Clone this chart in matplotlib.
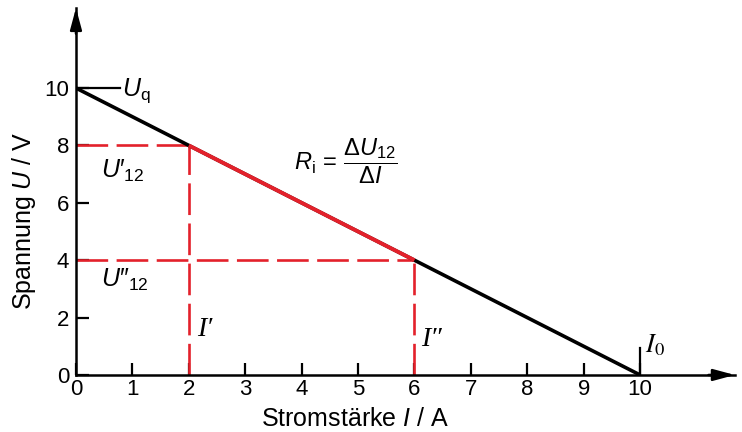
import matplotlib
matplotlib.use("Agg")
import matplotlib.pyplot as plt

plt.rcParams['font.family'] = ['Liberation Sans', 'DejaVu Sans']
plt.rcParams['mathtext.fontset'] = 'custom'
plt.rcParams['mathtext.rm'] = 'Liberation Sans'
plt.rcParams['mathtext.it'] = 'Liberation Sans:italic'
plt.rcParams['mathtext.sf'] = 'Liberation Sans'

# Kennlinie der Spannungsquelle
current = [0, 10]
voltage = [10, 0]
# Messpunkte fuer den Innenwiderstand
i_points = [2, 6]
u_points = [8, 4]

x_ticks = [0, 1, 2, 3, 4, 5, 6, 7, 8, 9, 10]
y_ticks = [0, 2, 4, 6, 8, 10]

red = '#e3212b'

fig = plt.figure(figsize=(7.42, 4.32), dpi=100)
ax = fig.add_axes([0.1024, 0.132, 0.888, 0.8495])
ax.set_xlim(0, 11.68)
ax.set_ylim(0, 12.79)

for s in ['top', 'right']:
    ax.spines[s].set_visible(False)
for s in ['left', 'bottom']:
    ax.spines[s].set_linewidth(1.8)

# Pfeile an den Achsenenden
ax.annotate('', xy=(1.0, 0), xytext=(0.96, 0), xycoords='axes fraction',
            arrowprops=dict(arrowstyle='-|>,head_length=1.3,head_width=0.35',
                            color='black', lw=1.8, shrinkA=0, shrinkB=0))
ax.annotate('', xy=(0, 1.0), xytext=(0, 0.93), xycoords='axes fraction',
            arrowprops=dict(arrowstyle='-|>,head_length=1.3,head_width=0.35',
                            color='black', lw=1.8, shrinkA=0, shrinkB=0))

ax.set_xticks(x_ticks)
ax.set_yticks(y_ticks)
ax.tick_params(direction='in', length=9, width=1.6, labelsize=16, pad=5)
ax.tick_params(axis='x', pad=3)

ax.set_xlabel('Stromstärke $I$ / A', fontsize=18)
ax.set_ylabel('Spannung $U$ / V', fontsize=18)
ax.xaxis.set_label_coords(0.423, -0.087)
ax.yaxis.set_label_coords(-0.058, 0.42)

# gestrichelte Hilfslinien
dash = (0, (12, 3.2))
for i, u in zip(i_points, u_points):
    ax.plot([0, i], [u, u], color=red, lw=1.9, linestyle=dash)
    ax.plot([i, i], [0, u], color=red, lw=1.9, linestyle=dash)

ax.plot(current, voltage, color='black', lw=2.6, solid_capstyle='butt')
ax.plot(i_points, u_points, color=red, lw=2.8, solid_capstyle='butt')

# Beschriftungen
ax.plot([0, 0.78], [10, 10], color='black', lw=1.6)
ax.text(0.82, 9.9, r'$U_{\mathrm{q}}$', fontsize=18, va='center')
ax.text(0.45, 7.1, "$U\u2032_{12}$", fontsize=18, va='center')
ax.text(0.45, 3.3, "$U\u2033_{12}$", fontsize=18, va='center')
ax.text(2.15, 1.6, "I′", fontsize=20, family='Liberation Serif', style='italic', va='center')
ax.text(6.12, 1.25, "I″", fontsize=20, family='Liberation Serif', style='italic', va='center')
ax.plot([10, 10], [0, 0.95], color='black', lw=1.6)
ax.text(10.08, 1.05, r"$I_0$", fontsize=19, va='center', math_fontfamily='stix')
ax.text(3.87, 7.45, r'$R_{\mathrm{i}}\,=\,\dfrac{\Delta U_{12}}{\Delta I}$', fontsize=17, va='center')

fig.savefig('out.png', dpi=100)
